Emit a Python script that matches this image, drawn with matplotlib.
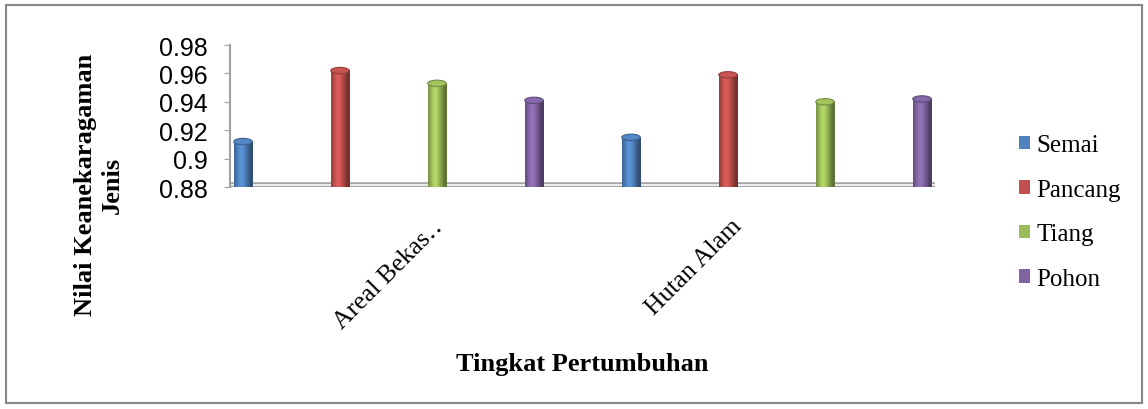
import matplotlib
matplotlib.use("Agg")
import matplotlib.pyplot as plt
import numpy as np
from matplotlib.patches import Ellipse, Rectangle
from matplotlib.colors import to_rgb

# data
categories = ["Areal Bekas\u2025", "Hutan Alam"]
series = ["Semai", "Pancang", "Tiang", "Pohon"]
semai = [0.912, 0.915]
pancang = [0.962, 0.959]
tiang = [0.953, 0.940]
pohon = [0.941, 0.942]
values = [semai, pancang, tiang, pohon]
colors = ["#4F81BD", "#C0504D", "#9BBB59", "#8064A2"]
yticks = [0.88, 0.9, 0.92, 0.94, 0.96, 0.98]
ytick_labels = ["0.88", "0.9", "0.92", "0.94", "0.96", "0.98"]

W, H = 1148, 410
fig = plt.figure(figsize=(W / 100, H / 100), dpi=100)
ax = fig.add_axes([230 / W, 1 - 188 / H, (935 - 230) / W, (188 - 46) / H])

ymin = 0.88
bw = 0.19
cap_h = 0.0045


def shade(c, n=40):
    base = np.array(to_rgb(c))
    t = np.linspace(0, 1, n)
    # light band a bit left of centre, darker edges
    k = 0.7 + 0.45 * np.exp(-((t - 0.38) / 0.3) ** 2) - 0.1 * (t > 0.82)
    rgb = np.clip(base[None, :] * k[:, None], 0, 1)
    return rgb[None, :, :]


for ci in range(len(categories)):
    for si, name in enumerate(series):
        x = ci * 4 + si
        v = values[si][ci]
        c = colors[si]
        ax.imshow(shade(c), extent=(x - bw / 2, x + bw / 2, ymin, v),
                  aspect="auto", interpolation="bilinear", zorder=3)
        ax.add_patch(Ellipse((x, ymin), bw, cap_h, color=np.array(to_rgb(c)) * 0.8,
                             zorder=2.9, lw=0))
        ax.add_patch(Ellipse((x, v), bw, cap_h,
                             facecolor=np.clip(np.array(to_rgb(c)) * 1.05, 0, 1),
                             edgecolor=np.array(to_rgb(c)) * 0.75, lw=0.8, zorder=4))

# legend handles
for si, name in enumerate(series):
    ax.bar([np.nan], [np.nan], color=colors[si], label=name)

ax.set_xlim(-0.134, 7.134)
ax.set_ylim(0.88, 0.98)
ax.set_yticks(yticks)
ax.set_yticklabels(ytick_labels, fontsize=18, family="Liberation Sans")
ax.tick_params(axis="y", length=4, color="#A0A0A0", pad=12)

# category labels (positions picked to match reference)
ax.set_xticks([1.95, 5.03])
ax.set_xticklabels(categories, rotation=45, ha="right", va="top",
                   rotation_mode="anchor", fontsize=18.5,
                   family=["Liberation Serif", "DejaVu Serif"])
ax.tick_params(axis="x", length=0, pad=20)

for s in ["top", "right", "bottom"]:
    ax.spines[s].set_visible(False)
ax.spines["left"].set_color("#A0A0A0")
ax.spines["left"].set_linewidth(1.5)

# floor plate
ax.axhline(0.8815, color="#A6A6A6", lw=4, zorder=1)
ax.axhline(0.8815, color="#F2F2F2", lw=1.3, zorder=1.1)
ax.set_facecolor("none")

fig.text(99 / W, 1 - 185 / H, "Nilai Keanekaragaman\nJenis", rotation=90,
         ha="center", va="center", multialignment="center",
         fontsize=19, fontweight="bold", family="Liberation Serif")
fig.text(582 / W, 1 - 365 / H, "Tingkat Pertumbuhan", ha="center", va="center",
         fontsize=19, fontweight="bold", family="Liberation Serif")

fig.legend(loc="center left", bbox_to_anchor=(1019 / W, 1 - 213 / H), frameon=False,
           prop={"family": "Liberation Serif", "size": 18}, handlelength=0.45,
           handleheight=0.45, handletextpad=0.25, labelspacing=0.9,
           borderpad=0, borderaxespad=0)

fig.add_artist(Rectangle((6 / W, 6 / H), 1 - 12 / W, 1 - 12 / H, transform=fig.transFigure,
                         fill=False, edgecolor="#868686", lw=1.5))

fig.savefig("out.png", dpi=100)
